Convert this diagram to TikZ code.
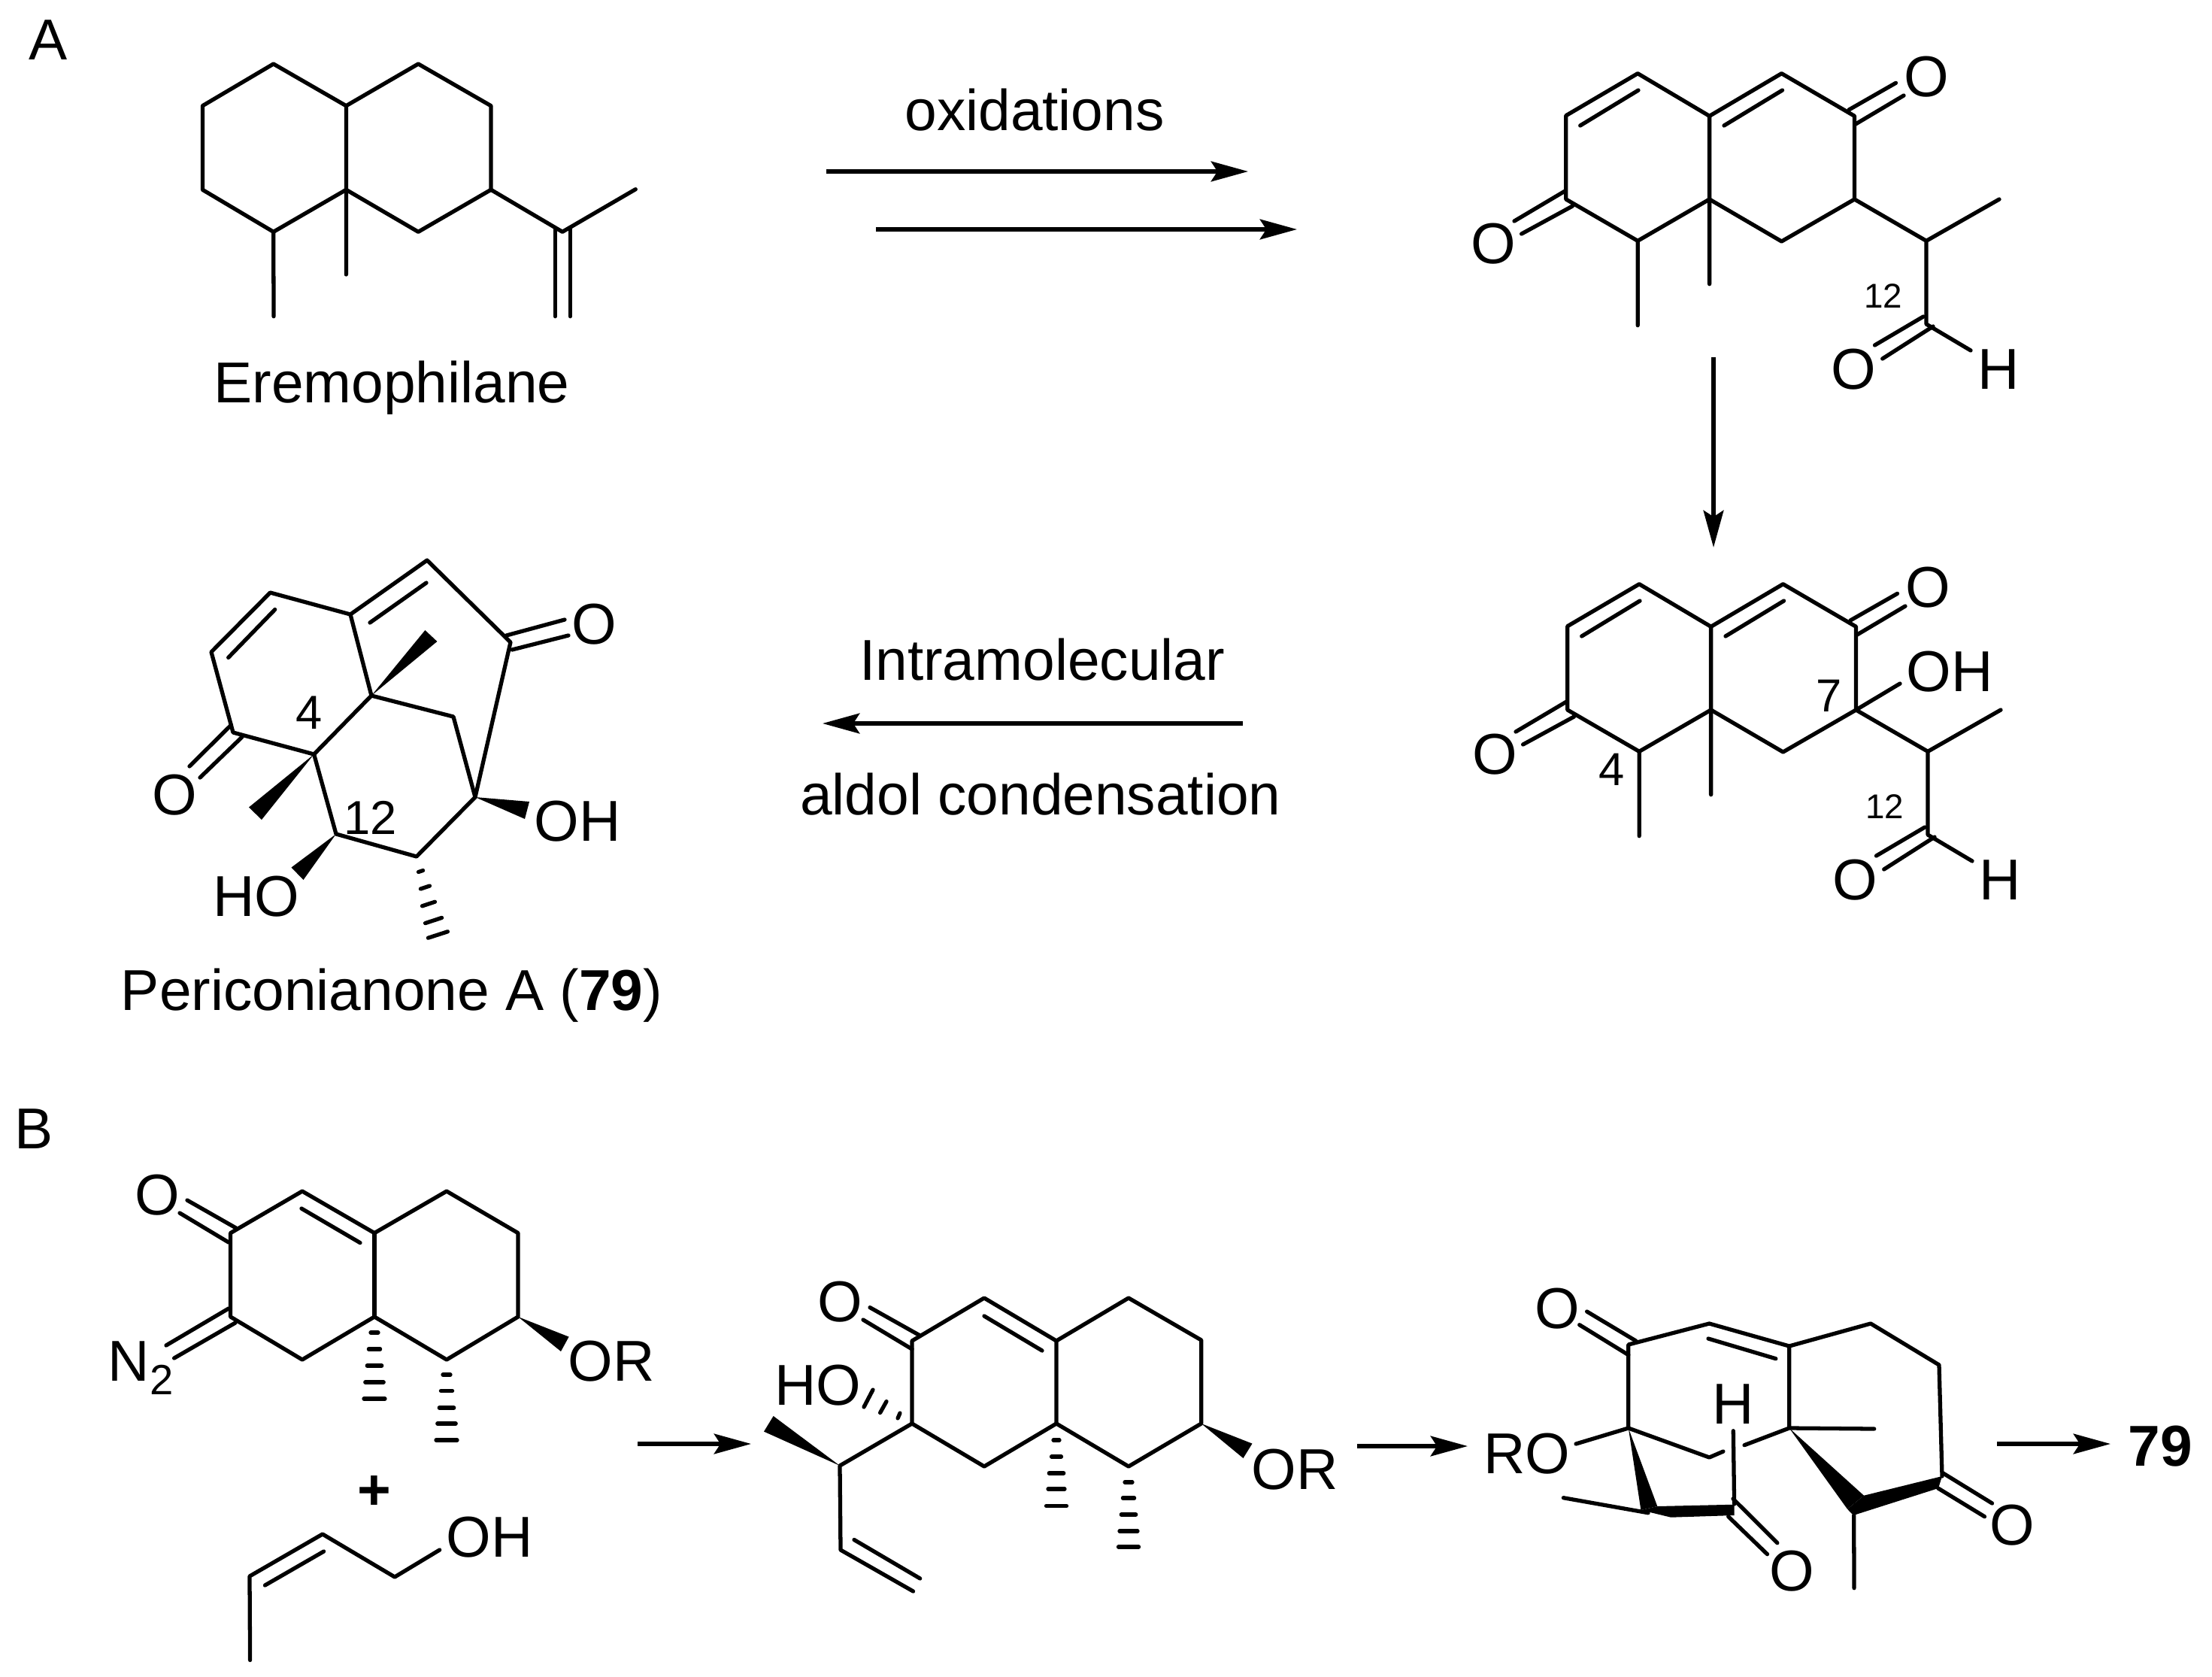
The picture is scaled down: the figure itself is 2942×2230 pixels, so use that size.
\documentclass[tikz,border=0pt]{standalone}
\usepackage{fontspec}
\setmainfont{Liberation Sans}
\usetikzlibrary{arrows.meta}
\tikzset{
  bond/.style={line width=1.5pt,line cap=round,line join=round,black},
  solidw/.style={fill=black,draw=none},
  lab/.style={inner sep=0pt,font=\fontsize{21.8}{25}\selectfont},
  num/.style={inner sep=0pt,font=\fontsize{18}{20}\selectfont},
  smallnum/.style={inner sep=0pt,font=\fontsize{13}{15}\selectfont},
  rxn/.style={line width=1.55pt,-{Stealth[length=14pt,width=7.6pt,inset=2.4pt]}},
}
\newcommand{\hb}[3]{\draw[bond] (#1-#3,#2)--(#1+#3,#2);}
\newcommand{\hv}[4]{\draw[bond] (#1-#3,#2-#4)--(#1+#3,#2+#4);}
\newcommand{\skel}[1]{%
  \coordinate (#1A) at (2084.8,832.7);
  \coordinate (#1B) at (2180.2,776.7);
  \coordinate (#1C) at (2275.6,833.3);
  \coordinate (#1D) at (2371.5,776.7);
  \coordinate (#1E) at (2468.5,833.3);
  \coordinate (#1F) at (2468.5,944);
  \coordinate (#1G) at (2371.5,1000);
  \coordinate (#1H) at (2275.6,944);
  \coordinate (#1I) at (2180.2,999.3);
  \coordinate (#1J) at (2084.8,944);
  \coordinate (#1Ma) at (2180.2,1111.7);
  \coordinate (#1Mb) at (2275.6,1056.7);
  \coordinate (#1K) at (2564,999.3);
  \coordinate (#1Mc) at (2661,944);
  \coordinate (#1L) at (2564,1110);
  \coordinate (#1Hb) at (2623,1145);
  \draw[bond] (#1A)--(#1B)--(#1C)--(#1D)--(#1E)--(#1F)--(#1G)--(#1H)--(#1I)--(#1J)--cycle;
  \draw[bond] (#1C)--(#1H) (#1I)--(#1Ma) (#1H)--(#1Mb) (#1F)--(#1K)--(#1Mc) (#1K)--(#1L)--(#1Hb);
  \draw[bond] (2103.7,846)--(2181,799) (2295,846)--(2372.5,799);
  \draw[bond] (2461,825)--(2523.5,789.3) (2470,844)--(2534,806);
  \draw[bond] (2084,932.7)--(2016,973) (2093.5,953)--(2025.6,990);
  \draw[bond] (2560,1100)--(2495.5,1138) (2573,1113)--(2505.7,1156);
  \node[lab] (#1Oa) at (2564,781) {O};
  \node[lab] (#1Ob) at (1988,1003) {O};
  \node[lab] (#1Oc) at (2467.5,1170) {O};
  \node[lab] (#1Hl) at (2660,1170) {H};
  \node[smallnum] (#1n12) at (2506.7,1073) {12};
}
\begin{document}
\begin{tikzpicture}[x=0.01cm,y=-0.01cm]
\useasboundingbox (0,0) rectangle (2942,2230);
\fill[white] (0,0) rectangle (2942,2230);

\node[lab] (tagA) at (64,53) {A};
\node[lab] (tagB) at (45,1501) {B};

% Eremophilane
\coordinate (e1) at (363.7,85);
\coordinate (e2) at (460.4,140.7);
\coordinate (e3) at (556.3,85);
\coordinate (e4) at (653,140.7);
\coordinate (e5) at (653,252.3);
\coordinate (e6) at (556.3,308.3);
\coordinate (e7) at (460.4,252.3);
\coordinate (e8) at (363.7,308.3);
\coordinate (e9) at (269.4,252.3);
\coordinate (e10) at (269.4,140.7);
\coordinate (em1) at (364,420.7);
\coordinate (em2) at (460.4,365);
\coordinate (e11) at (748,308.3);
\coordinate (em3) at (845.3,251.7);
\draw[bond] (e1)--(e2)--(e3)--(e4)--(e5)--(e6)--(e7)--(e8)--(e9)--(e10)--cycle;
\draw[bond] (e2)--(e7)--(em2) (e8)--(em1) (e5)--(e11)--(em3);
\draw[bond] (738.4,303)--(738.4,420.7) (758.4,303)--(758.4,420.7);
\node[lab,anchor=base] (ename) at (521,535) {Eremophilane};

% arrows
\coordinate (a1s) at (1099,228); \coordinate (a1e) at (1660,228);
\coordinate (a2s) at (1165,305); \coordinate (a2e) at (1725,305);
\coordinate (a3s) at (2279,475); \coordinate (a3e) at (2279,728);
\coordinate (a4s) at (1653,962); \coordinate (a4e) at (1094,962);
\coordinate (a5s) at (848,1920); \coordinate (a5e) at (999,1920);
\coordinate (a6s) at (1805,1923); \coordinate (a6e) at (1952,1923);
\coordinate (a7s) at (2656,1920); \coordinate (a7e) at (2807,1920);
\draw[rxn] (a1s)--(a1e);
\draw[rxn] (a2s)--(a2e);
\draw[rxn] (a3s)--(a3e);
\draw[rxn] (a4s)--(a4e);
\draw[rxn] (a5s)--(a5e);
\draw[rxn] (a6s)--(a6e);
\draw[rxn] (a7s)--(a7e);
\node[lab,anchor=base] (ox) at (1376,173) {oxidations};
\node[lab] (intra) at (1386,877) {Intramolecular};
\node[lab] (aldol) at (1384,1056) {aldol condensation};

% top right
\begin{scope}[shift={(-2,-679)}]
\skel{t}
\end{scope}
% second right
\skel{s}
\coordinate (sOHe) at (2527,909);
\draw[bond] (sF)--(sOHe);
\node[lab] (sOH) at (2593,893) {OH};
\node[num,font=\fontsize{17.5}{20}\selectfont] (s4) at (2143.5,1023) {4};
\node[num,font=\fontsize{17.5}{20}\selectfont] (s7) at (2433,925) {7};

% Periconianone
\coordinate (pa) at (359.4,788);
\coordinate (pb) at (281,867);
\coordinate (pc) at (310,974);
\coordinate (pd) at (417.6,1003);
\coordinate (pe) at (494,925);
\coordinate (pf) at (466,817);
\coordinate (pg) at (568,745);
\coordinate (ph) at (679,854);
\coordinate (pi) at (603,953);
\coordinate (pj) at (632,1060);
\coordinate (pk) at (554,1139);
\coordinate (pl) at (447,1109);
\draw[bond] (pa)--(pb)--(pc)--(pd)--(pe)--(pf)--cycle;
\draw[bond] (pf)--(pg)--(ph)--(pj)--(pk)--(pl)--(pd);
\draw[bond] (pe)--(pi)--(pj);
\draw[bond] (365.7,810.5)--(303.7,874.4) (567,775)--(492,828);
\draw[bond] (307.5,964)--(252,1019) (322,980)--(266,1034);
\draw[bond] (673.5,845)--(751,824) (681,864)--(756,845);
\fill[solidw] (pe)--(565.4,838)--(581.4,853)--cycle;
\fill[solidw] (pd)--(331,1073.5)--(348,1090)--cycle;
\fill[solidw] (pj)--(704,1066)--(698,1089)--cycle;
\fill[solidw] (pl)--(387.5,1153.5)--(403.5,1170)--cycle;
\hv{559.6}{1158.5}{3}{-1}
\hv{565.4}{1180}{6}{-2}
\hv{570}{1202}{8.5}{-2.8}
\hv{576.6}{1224}{11}{-3.6}
\hv{582.4}{1243}{13}{-4.2}
\node[lab] (pO1) at (232.4,1057.5) {O};
\node[lab] (pO2) at (790,830) {O};
\node[lab] (pOH) at (768,1092) {OH};
\node[lab] (pHO) at (341,1192) {HO};
\node[num] (p4) at (411,948) {4};
\node[num] (p12) at (493,1087) {12};
\node[lab] (pname) at (521,1324) {Periconianone A (\textbf{79})};

% B left
\coordinate (la) at (306.6,1639.6);
\coordinate (lb) at (402,1584);
\coordinate (lc) at (498,1639.6);
\coordinate (ld) at (594,1584);
\coordinate (le) at (689,1639.6);
\coordinate (lf) at (689,1751);
\coordinate (lg) at (594,1808);
\coordinate (lh) at (498,1751);
\coordinate (li) at (402,1808);
\coordinate (lj) at (306.6,1751);
\draw[bond] (la)--(lb)--(lc)--(ld)--(le)--(lf)--(lg)--(lh)--(li)--(lj)--cycle;
\draw[bond] (lc)--(lh);
\draw[bond] (401,1607)--(479,1652.6);
\draw[bond] (249,1596)--(314,1633) (239,1613)--(304,1652);
\draw[bond] (304,1740)--(221,1789) (313,1759)--(231.6,1806);
\fill[solidw] (lf)--(756.6,1777.6)--(746,1797)--cycle;
\hb{498}{1772}{5}\hb{498}{1794}{7.6}\hb{498}{1816}{9.7}\hb{498}{1838}{12.2}\hb{498}{1860}{14}
\hb{594}{1828}{5}\hb{594}{1849.5}{7.6}\hb{594}{1872}{9.7}\hb{594}{1893}{12.2}\hb{594}{1915}{14}
\node[lab] (lO) at (209.7,1589) {O};
\node[lab] (lN) at (171.4,1810) {N};
\node[smallnum,font=\fontsize{16}{18}\selectfont] (lN2) at (215,1835) {2};
\node[lab] (lOR) at (813,1810) {OR};
\node[lab,font=\bfseries\fontsize{21.8}{25}\selectfont] (plus) at (498,1985) {+};
\coordinate (ba) at (332.6,2207.5);
\coordinate (bb) at (332,2096);
\coordinate (bc) at (429,2040);
\coordinate (bd) at (525,2097);
\coordinate (be) at (584.7,2061);
\draw[bond] (ba)--(bb)--(bc)--(bd)--(be);
\draw[bond] (352.5,2108)--(430.6,2063);
\node[lab] (bOH) at (651,2044.5) {OH};

% B middle
\coordinate (ma) at (1213,1783);
\coordinate (mb) at (1309,1726);
\coordinate (mc) at (1405,1783);
\coordinate (md) at (1501,1726);
\coordinate (me) at (1597.7,1782);
\coordinate (mf) at (1597.7,1893);
\coordinate (mg) at (1501,1950);
\coordinate (mh) at (1405,1893);
\coordinate (mi) at (1309,1950);
\coordinate (mj) at (1213,1893);
\coordinate (mk) at (1117,1949);
\coordinate (ml) at (1118,2061);
\coordinate (mm) at (1214.5,2116);
\draw[bond] (ma)--(mb)--(mc)--(md)--(me)--(mf)--(mg)--(mh)--(mi)--(mj)--cycle;
\draw[bond] (mc)--(mh) (mj)--(mk)--(ml)--(mm);
\draw[bond] (1136,2047.5)--(1223.7,2099) (1309,1750)--(1386,1796);
\draw[bond] (1157,1738.6)--(1223.7,1776) (1148,1755)--(1213,1794);
\fill[solidw] (mk)--(1028.6,1883)--(1016,1903.6)--cycle;
\fill[solidw] (mf)--(1665.5,1919.6)--(1653.5,1939)--cycle;
\draw[bond] (1194,1886)--(1197,1879) (1170.6,1878.6)--(1179,1863.6) (1149,1871)--(1161,1848);
\hb{1405}{1915}{4}\hb{1405}{1937}{6.5}\hb{1405}{1959}{9.7}\hb{1405}{1980}{11}\hb{1405}{2002.5}{13.5}
\hb{1501}{1971}{5}\hb{1501}{1992}{7.6}\hb{1501}{2014}{9.7}\hb{1501}{2036}{12}\hb{1501}{2057}{13.5}
\node[lab] (mO) at (1117,1731.5) {O};
\node[lab] (mHO) at (1088,1842) {HO};
\node[lab] (mOR) at (1722,1953.6) {OR};

% B right
\coordinate (ra) at (2165.8,1788);
\coordinate (rb) at (2273.4,1760);
\coordinate (rc) at (2379.7,1790);
\coordinate (rd) at (2488,1760);
\coordinate (re) at (2579,1815);
\coordinate (rf) at (2583,1963);
\coordinate (rh) at (2379.7,1899);
\coordinate (ri) at (2273.4,1938);
\coordinate (rj) at (2165.8,1899);
\coordinate (rm1) at (2492.7,1900);
\coordinate (rRO) at (2096,1920);
\coordinate (ri2) at (2292,1930);
\coordinate (rh2) at (2320,1921.7);
\coordinate (rg) at (2465.7,2015);
\coordinate (rm2) at (2466,2111.7);
\coordinate (rm3a) at (2079.4,1991.7);
\coordinate (rm3b) at (2192,2011.7);
\coordinate (rHt) at (2305.3,1902.7);
\coordinate (rHb) at (2306.6,2000);
\draw[bond] (rj)--(ra)--(rb)--(rc)--(rd)--(re)--(rf);
\draw[bond] (rc)--(rh)--(rm1) (rj)--(ri)--(ri2) (rh2)--(rh) (rj)--(rRO);
\draw[bond] (rg)--(rm2) (rm3a)--(rm3b) (rHt)--(rHb);
\draw[bond] (2272,1780)--(2361.8,1806.7);
\draw[bond] (2110.6,1744)--(2175.7,1783) (2100.7,1761.7)--(2165.8,1801.7);
\draw[bond] (2305,1993)--(2363.8,2051.7) (2298.7,2016.7)--(2350.5,2066.7);
\draw[bond] (2584.4,1959)--(2649.5,1999) (2577.7,1979)--(2639.5,2016.7);
\fill[solidw] (rh)--(2479,1988.7)--(2457,2006.7)--cycle;
\fill[solidw] (rf)--(2479,1988.7)--(2457,2006.7)--(2465,2015)--(2578,1979)--cycle;
\fill[solidw] (rj)--(2204.3,2003)--(2182.4,2008)--cycle;
\fill[solidw] (2204.3,2003)--(2306.6,2000.7)--(2306.6,2015)--(2222.3,2017.7)--(2182.4,2008)--cycle;
\node[lab] (rH) at (2305.3,1866.7) {H};
\node[lab] (rROl) at (2031,1933) {RO};
\node[lab] (rO1) at (2070.8,1740) {O};
\node[lab] (rO2) at (2383.7,2089.3) {O};
\node[lab] (rO3) at (2676,2028) {O};
\node[lab,font=\bfseries\fontsize{21.8}{25}\selectfont] (r79) at (2873,1923) {79};
\end{tikzpicture}
\end{document}
